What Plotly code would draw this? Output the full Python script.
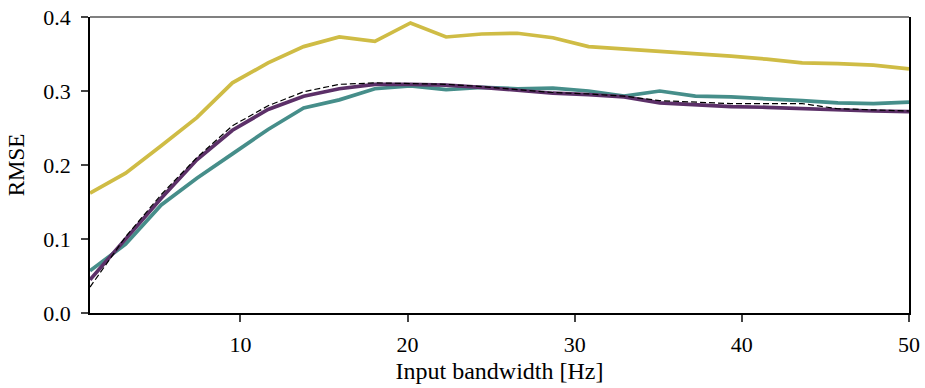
import numpy as np
import plotly.graph_objects as go

bandwidth = np.linspace(1, 50, 24)

rmse_yellow = [0.162, 0.189, 0.226, 0.264, 0.311, 0.338, 0.360, 0.373, 0.367, 0.392,
               0.373, 0.377, 0.378, 0.372, 0.360, 0.357, 0.354, 0.350, 0.347, 0.343,
               0.338, 0.337, 0.335, 0.330]
rmse_teal = [0.057, 0.093, 0.146, 0.182, 0.215, 0.248, 0.277, 0.288, 0.303, 0.307,
             0.302, 0.305, 0.303, 0.304, 0.300, 0.293, 0.300, 0.293, 0.292, 0.290,
             0.287, 0.284, 0.283, 0.285]
rmse_purple = [0.045, 0.100, 0.155, 0.207, 0.247, 0.275, 0.293, 0.303, 0.309, 0.309,
               0.308, 0.305, 0.301, 0.297, 0.295, 0.292, 0.284, 0.281, 0.279, 0.278,
               0.276, 0.274, 0.273, 0.272]
rmse_dashed = [0.035, 0.103, 0.160, 0.210, 0.253, 0.280, 0.299, 0.309, 0.311, 0.310,
               0.309, 0.306, 0.302, 0.298, 0.296, 0.293, 0.287, 0.285, 0.283, 0.283,
               0.283, 0.276, 0.274, 0.273]

x_ticks = [10, 20, 30, 40, 50]
y_ticks = [0.0, 0.1, 0.2, 0.3, 0.4]

FONT = "Liberation Serif"

fig = go.Figure()
fig.add_trace(go.Scatter(x=bandwidth, y=rmse_yellow, mode="lines",
                         line=dict(color="#cfbc45", width=3.7), showlegend=False))
fig.add_trace(go.Scatter(x=bandwidth, y=rmse_teal, mode="lines",
                         line=dict(color="#468e8a", width=3.7), showlegend=False))
fig.add_trace(go.Scatter(x=bandwidth, y=rmse_purple, mode="lines",
                         line=dict(color="#5c3068", width=3.7), showlegend=False))
fig.add_trace(go.Scatter(x=bandwidth, y=rmse_dashed, mode="lines",
                         line=dict(color="black", width=1.2, dash="6px,3px"), showlegend=False))

fig.update_layout(
    width=925, height=388,
    margin=dict(l=90, r=16, t=17, b=75),
    paper_bgcolor="white", plot_bgcolor="white",
    font=dict(family=FONT, size=22, color="black"),
    xaxis=dict(range=[1, 50], tickvals=x_ticks, ticks="outside", ticklen=7, tickwidth=1.5,
               showline=True, linecolor="black", linewidth=1.5, showgrid=False, zeroline=False,
               automargin=False, ticklabelstandoff=4,
               title=dict(text="Input bandwidth [Hz]", standoff=6, font=dict(size=24)),
               tickfont=dict(size=22)),
    yaxis=dict(range=[0, 0.4], tickvals=y_ticks, tickformat=".1f", ticks="outside", ticklen=7,
               tickwidth=1.5, showline=True, linecolor="black", linewidth=1.5, mirror=True,
               showgrid=False, zeroline=False, automargin=False, ticklabelstandoff=6,
               title=dict(text="RMSE", standoff=12, font=dict(size=23)),
               tickfont=dict(size=22)),
    shapes=[dict(type="line", xref="paper", yref="paper", x0=0, x1=1, y0=1, y1=1,
                 line=dict(color="#808080", width=2))],
)

fig.write_html("out.html")
